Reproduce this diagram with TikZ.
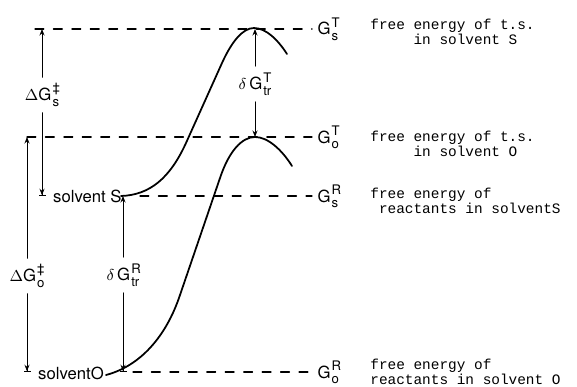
\documentclass[tikz,border=0pt]{standalone}
\usepackage{amsmath}
\usepackage{fontspec}
\setsansfont{TeX Gyre Heros}
\setmonofont{Liberation Mono}
\usetikzlibrary{arrows.meta}

\newcommand{\Glev}[2]{G\kern0.6pt\rlap{\raisebox{4.2pt}{\fontsize{7.5}{8}\selectfont #1}}%
  \raisebox{-3.4pt}{\fontsize{7.5}{8}\selectfont #2}}

\begin{document}
\begin{tikzpicture}[x=0.2mm,y=-0.2mm,>={Stealth[length=1.3mm,width=1mm]},
  font=\sffamily\fontsize{9.5}{11}\selectfont,line cap=round,
  level/.style={line width=0.7pt,dash pattern=on 5pt off 5.5pt},
  gap/.style={line width=0.45pt},
  bartip/.style={-{Stealth[length=1.3mm,width=1mm]Bar[width=1.4mm]}},
  curve/.style={line width=1pt},
  glab/.style={anchor=base west,inner sep=3pt},
  note/.style={anchor=west,inner sep=0pt,align=left,font=\ttfamily\fontsize{8.2}{7.4}\selectfont}]
\useasboundingbox (0,0) rectangle (577,386);

% levels
\coordinate (sT) at (35,29);
\coordinate (oT) at (27,137);
\coordinate (sR) at (140,196);
\coordinate (oR) at (133,372);
\node[glab] (GsT) at (312,35) {\Glev{T}{s}};
\node[glab] (GoT) at (312,143) {\Glev{T}{o}};
\node[glab] (GsR) at (312,202) {\Glev{R}{s}};
\node[glab] (GoR) at (312,378) {\Glev{R}{o}};
\draw[level] (sT) -- (sT -| GsT.west);
\draw[level] (oT) -- (oT -| GoT.west);
\draw[level] (sR) -- (sR -| GsR.west);
\draw[level] (oR) -- (oR -| GoR.west);

\node[note] (nsT) at (370,31.5) {free energy of t.s.\\\phantom{free }in solvent S};
\node[note] (noT) at (370,143.5) {free energy of t.s.\\\phantom{free }in solvent O};
\node[note] (nsR) at (370,201) {free energy of\\\phantom{f}reactants in solventS};
\node[note] (noR) at (370,371.5) {free energy of\\reactants in solvent O};

% profiles
\draw[curve] (121,196) .. controls (150,195) and (170,178) .. (186,143) -- (222,63)
  .. controls (232,41) and (243,28) .. (254,28) .. controls (266,28) and (278,40) .. (287,54);
\draw[curve] (106,375) .. controls (140,366) and (166,337) .. (180,295) -- (220,178)
  .. controls (229,151) and (242,137) .. (255,137) .. controls (268,137) and (282,150) .. (292,166);

% differences
\coordinate (sTa) at (42,29);
\coordinate (sSa) at (42,196);
\node (dGs) at (42,95) {$\Delta$\Glev{\textdaggerdbl}{s}};
\draw[gap,->] (dGs) -- (sTa);
\draw[gap,bartip] (dGs) -- (sSa);
\node[anchor=west] (solS) at (47,196) {solvent S};

\coordinate (oTa) at (27,137);
\coordinate (oRa) at (27,372);
\node (dGo) at (27,276) {$\Delta$\Glev{\textdaggerdbl}{o}};
\draw[gap,->] (dGo) -- (oTa);
\draw[gap,bartip] (dGo) -- (oRa);
\node[anchor=west] (solO) at (32,373) {solventO};

\coordinate (rSa) at (123,196);
\coordinate (rOa) at (123,372);
\node (dGR) at (123,275) {$\delta$\,\Glev{R}{tr}};
\draw[gap,->] (dGR) -- (rSa);
\draw[gap,bartip] (dGR) -- (rOa);

\coordinate (tSa) at (255,29);
\coordinate (tOa) at (255,137);
\node (dGT) at (255,84) {$\delta$\,\Glev{T}{tr}};
\draw[gap,->] (dGT) -- (tSa);
\draw[gap,->] (dGT) -- (tOa);
\end{tikzpicture}
\end{document}
